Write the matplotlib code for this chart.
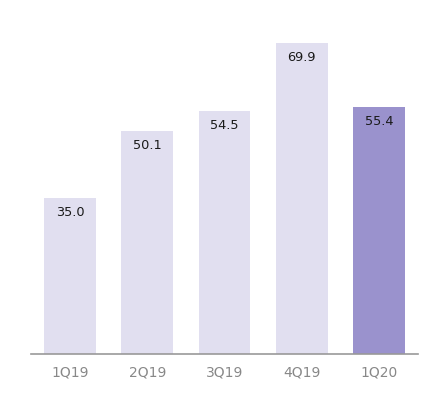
import matplotlib
matplotlib.use("Agg")
import matplotlib.pyplot as plt

categories = ["1Q19", "2Q19", "3Q19", "4Q19", "1Q20"]
values = [35.0, 50.1, 54.5, 69.9, 55.4]
labels = ["35.0", "50.1", "54.5", "69.9", "55.4"]
highlight = [False, False, False, False, True]

light = "#E1DFF0"
dark = "#9A92CD"

fig = plt.figure(figsize=(4.46, 3.99), dpi=100)
ax = fig.add_axes([31/446, 1 - 354/399, (418-31)/446, 354/399])

x = list(range(len(categories)))
colors = [dark if h else light for h in highlight]
ax.bar(x, values, width=0.673, color=colors, zorder=2)

ax.set_xlim(-0.505, len(categories) - 1 + 0.505)
ax.set_ylim(0, 354/4.45)

px_per_unit = 4.45
for xi, v, lab in zip(x, values, labels):
    ax.text(xi, v - 14.5/px_per_unit, lab, ha="center", va="center",
            fontsize=9.3, color="#1a1a1a", family="DejaVu Sans")

for s in ["top", "right", "left"]:
    ax.spines[s].set_visible(False)
ax.spines["bottom"].set_color("#999999")
ax.spines["bottom"].set_linewidth(1.2)
ax.set_yticks([])
ax.set_xticks(x)
ax.set_xticklabels(categories, fontsize=10, color="#888888")
ax.tick_params(axis="x", length=0, pad=8)

fig.savefig("out.png", dpi=100)
